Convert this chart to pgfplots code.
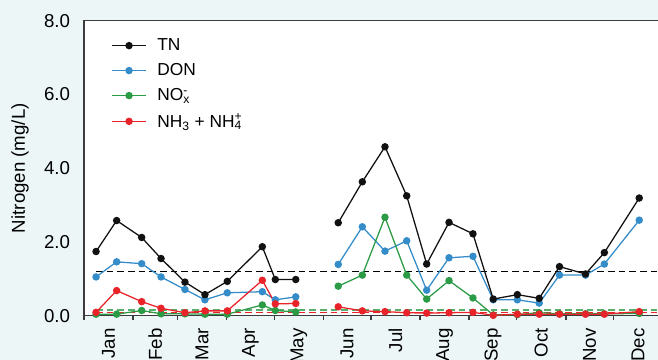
\documentclass[border=0pt]{standalone}
\usepackage{fontspec}
\setmainfont{Liberation Sans}
\usepackage{pgfplots}
\pgfplotsset{compat=1.18}
\usepackage{pgfplotstable}

\definecolor{bgc}{RGB}{236,246,247}
\definecolor{cTN}{RGB}{17,17,17}
\definecolor{cDON}{RGB}{52,140,200}
\definecolor{cNOX}{RGB}{44,155,70}
\definecolor{cNH}{RGB}{232,36,42}
\definecolor{spine}{RGB}{60,60,60}

% Sampling day of year; the nan row breaks the lines between May and June
\pgfplotstableread{
day   TN    DON   NOX   NH
7.6   1.74  1.05  0.04  0.09
20.6  2.58  1.46  0.04  0.68
36.4  2.12  1.41  0.14  0.38
48.6  1.55  1.05  0.05  0.20
63.7  0.91  0.71  0.05  0.08
76.3  0.57  0.43  0.04  0.13
90.4  0.93  0.62  0.04  0.13
112.5 1.87  0.65  0.29  0.96
120.7 0.98  0.43  0.14  0.32
133.6 0.98  0.51  0.10  0.33
147.0 nan   nan   nan   nan
160.4 2.52  1.39  0.80  0.24
175.6 3.63  2.41  1.10  0.13
189.9 4.58  1.75  2.67  0.11
203.6 3.25  2.03  1.10  0.08
216.2 1.40  0.69  0.45  0.07
230.3 2.53  1.57  0.95  0.08
245.4 2.22  1.61  0.48  0.09
258.2 0.45  0.43  0.02  0.01
273.4 0.57  0.43  0.03  0.04
287.2 0.47  0.34  0.08  0.04
300.0 1.33  1.10  0.05  0.04
316.4 1.13  1.10  0.05  0.04
328.3 1.71  1.40  0.05  0.04
350.3 3.19  2.59  0.06  0.11
}\datatable

\begin{document}
\begin{tikzpicture}
\fill[bgc] (-63pt,-33.2pt) rectangle (430.5pt,236.75pt);
\begin{axis}[
  at={(0,0)}, anchor=south west,
  scale only axis, width=433.9pt, height=221.25pt,
  xmin=0, xmax=365, ymin=0, ymax=8,
  axis background/.style={fill=white},
  axis line style={spine, line width=1.2pt},
  unbounded coords=jump,
  font=\fontsize{14}{16}\selectfont,
  /pgf/number format/assume math mode=true,
  xtick={0,31,59,90,120,151,181,212,243,273,304,334,365},
  xticklabels={Jan,Feb,Mar,Apr,May,Jun,Jul,Aug,Sep,Oct,Nov,Dec},
  x tick label as interval,
  xtick pos=left, ytick pos=left,
  xtick align=outside,
  major tick length=3.5pt,
  xtick style={spine, line width=1pt},
  ytick style={draw=none},
  ytick={0,2,4,6,8},
  yticklabel style={/pgf/number format/.cd, fixed, fixed zerofill, precision=1, /tikz/.cd, xshift=-7pt},
  xticklabel style={rotate=90, anchor=east, xshift=-2.5pt},
  ylabel={Nitrogen (mg/L)},
  ylabel style={at={(axis description cs:0,0.5)}, anchor=center, yshift=48pt},
  legend style={draw=none, fill=none, at={(axis description cs:0.04,0.958)}, anchor=north west,
    font=\fontsize{13}{15}\selectfont, row sep=4.2pt,
    /tikz/every odd column/.append style={column sep=6pt}},
  legend cell align=left,
  legend image code/.code={\draw[mark repeat=2,mark phase=2,#1] plot coordinates {(0pt,0pt) (12.75pt,0pt) (25.5pt,0pt)};},
  every axis plot/.append style={line width=0.95pt, mark=*, mark size=2.3pt},
]
% legend entries in display order
\addlegendimage{cTN, mark=*, mark options={fill=cTN}}
\addlegendentry{TN}
\addlegendimage{cDON, mark=*, mark options={fill=cDON}}
\addlegendentry{DON}
\addlegendimage{cNOX, mark=*, mark options={fill=cNOX}}
\addlegendentry{NO\rlap{\raisebox{0.5pt}{\textsuperscript{-}}}\textsubscript{x}}
\addlegendimage{cNH, mark=*, mark options={fill=cNH}}
\addlegendentry{NH\textsubscript{3} + NH\rlap{\raisebox{0.5pt}{\textsuperscript{+}}}\textsubscript{4}}

% reference levels
\addplot[forget plot, no marks, black, line width=0.8pt, dash pattern=on 5pt off 3pt] coordinates {(7.6,1.2) (365,1.2)};
\addplot[forget plot, no marks, cNOX!80, line width=0.8pt, dash pattern=on 5pt off 3pt] coordinates {(7.6,0.17) (365,0.17)};
\addplot[forget plot, no marks, cNOX!80, line width=0.8pt, dash pattern=on 5pt off 3pt] coordinates {(7.6,0.13) (365,0.13)};
\addplot[forget plot, no marks, cNH, line width=0.8pt, dash pattern=on 5pt off 3pt] coordinates {(7.6,0.08) (365,0.08)};

% series
\addplot[forget plot, cDON, mark options={fill=cDON}] table[x=day, y=DON] {\datatable};
\addplot[forget plot, cTN, mark options={fill=cTN}] table[x=day, y=TN] {\datatable};
\addplot[forget plot, cNOX, mark options={fill=cNOX}] table[x=day, y=NOX] {\datatable};
\addplot[forget plot, cNH, mark options={fill=cNH}] table[x=day, y=NH] {\datatable};
\end{axis}
\pgfresetboundingbox
\useasboundingbox (-63pt,-33.2pt) rectangle (430.5pt,236.75pt);
\end{tikzpicture}
\end{document}
